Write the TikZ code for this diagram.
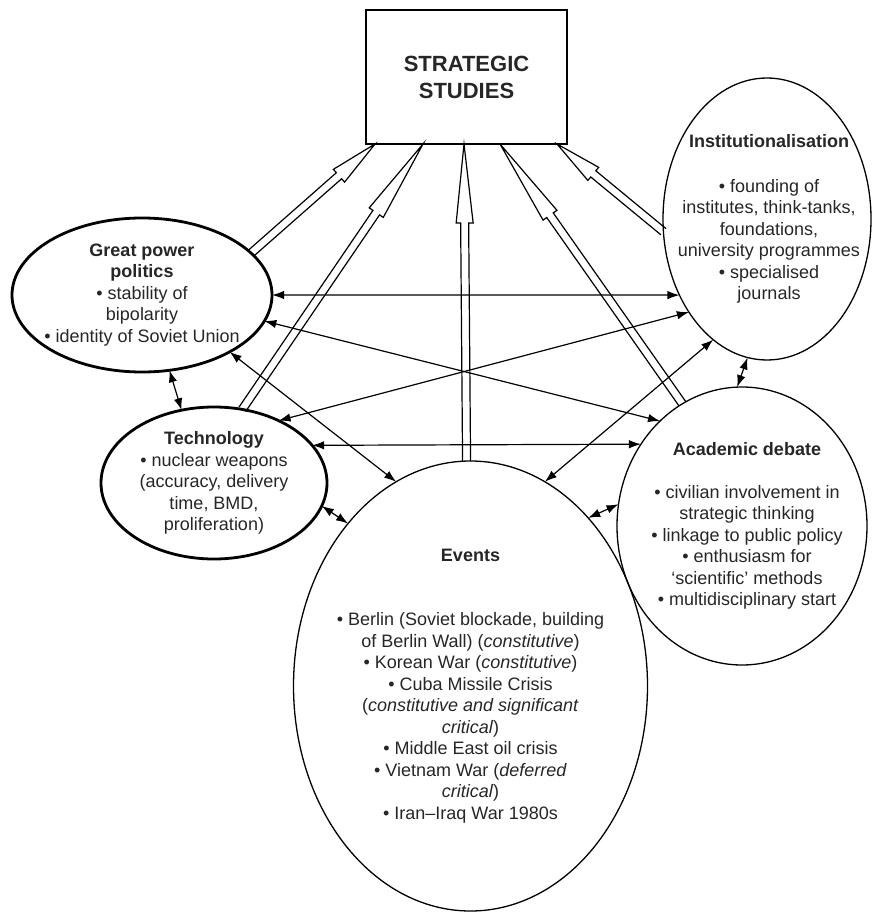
\documentclass[tikz,border=0pt]{standalone}
\usepackage{fontspec}
\setmainfont{Liberation Sans}
\usetikzlibrary{shapes.geometric,arrows.meta,calc}
\begin{document}
\begin{tikzpicture}[x=1pt,y=-1pt,
  every node/.style={inner sep=0pt, outer sep=0pt},
  body/.style={font=\fontsize{18}{21.5}\selectfont, align=center, text=black!85},
  thickell/.style={ellipse, draw, line width=2.8pt},
  thinell/.style={ellipse, draw, line width=1.3pt},
  bi/.style={{Latex[length=12pt,width=8.5pt]}-{Latex[length=12pt,width=8.5pt]}, line width=1.2pt},
  hollowline/.style={line width=1.2pt, line join=miter},
  hollow/.style={to path={let \p1=(\tikztostart), \p2=(\tikztotarget),
     \n1={atan2(\y2-\y1,\x2-\x1)}, \n2={veclen(\x2-\x1,\y2-\y1)-#1} in
     ($(\p1)+(\n1+90:4pt)$) -- ($(\p1)+(\n1:\n2)+(\n1+90:4pt)$)
     -- ($(\p1)+(\n1:\n2)+(\n1+90:8.5pt)$) -- (\p2)
     -- ($(\p1)+(\n1:\n2)+(\n1-90:8.5pt)$) -- ($(\p1)+(\n1:\n2)+(\n1-90:4pt)$)
     -- ($(\p1)+(\n1-90:4pt)$)}}
]
\useasboundingbox (0,0) rectangle (872,912);

% main box
\node[draw, line width=1.5pt, minimum width=201pt, minimum height=134pt,
      font=\bfseries\fontsize{22}{27}\selectfont, align=center, text=black!85]
      (ss) at (466.5,77) {STRATEGIC\\STUDIES};

% ellipses
\node[thickell, minimum width=260pt, minimum height=154pt] (gp) at (142,295) {};
\node[thickell, minimum width=226pt, minimum height=152pt] (tech) at (214,483) {};
\node[thinell, minimum width=208pt, minimum height=282pt] (inst) at (767,219) {};
\node[thinell, minimum width=250pt, minimum height=278pt] (ad) at (742,526) {};
\node[thinell, minimum width=354pt, minimum height=450pt] (ev) at (470.5,686) {};

% texts
\node[body] (gpt) at (gp.center) {\textbf{Great power}\\\textbf{politics}\\• stability of\\bipolarity\\• identity of Soviet Union};
\node[body] (techt) at (tech.center) {\textbf{Technology}\\• nuclear weapons\\(accuracy, delivery\\time, BMD,\\proliferation)};
\node[body] (instt) at ([xshift=2pt]inst.center) {\textbf{Institutionalisation}\\[23.5pt]• founding of\\institutes, think-tanks,\\foundations,\\university programmes\\• specialised\\journals};
\node[body] (adt) at ([xshift=5pt]ad.center) {\textbf{Academic debate}\\[21.5pt]• civilian involvement in\\strategic thinking\\• linkage to public policy\\• enthusiasm for\\‘scientific’ methods\\• multidisciplinary start};
\node[body] (evt) at (ev.center) {\textbf{Events}\\[43pt]• Berlin (Soviet blockade, building\\of Berlin Wall) (\textit{constitutive})\\• Korean War (\textit{constitutive})\\• Cuba Missile Crisis\\(\textit{constitutive and significant}\\\textit{critical})\\• Middle East oil crisis\\• Vietnam War (\textit{deferred}\\\textit{critical})\\• Iran–Iraq War 1980s};

% hollow arrows to the box
\draw[hollowline, hollow=48] (gp.21) to ([xshift=-91.5pt]ss.south);
\draw[hollowline, hollow=83] (tech.69) to ([xshift=-43.5pt]ss.south);
\draw[hollowline, hollow=79] (ev.91.5) to ([xshift=-2.5pt]ss.south);
\draw[hollowline, hollow=87] (ad.116) to ([xshift=33.5pt]ss.south);
\draw[hollowline, hollow=47] (inst.187) to ([xshift=90.5pt]ss.south);

% two-headed connectors
\draw[bi] (gp.0) -- (inst.221);
\draw[bi] (gp.-12) -- (ad.128);
\draw[bi] (gp.-33) -- (ev.110);
\draw[bi] (tech.44) -- (inst.230);
\draw[bi] (tech.21) -- (ad.141);
\draw[bi] (ev.70) -- (inst.246);
\draw[bi] (gp.-70) -- (tech.114);
\draw[bi] (tech.-12) -- (ev.127);
\draw[bi] (ev.55) -- (ad.170);
\draw[bi] (inst.262) -- (ad.92);
\end{tikzpicture}
\end{document}
